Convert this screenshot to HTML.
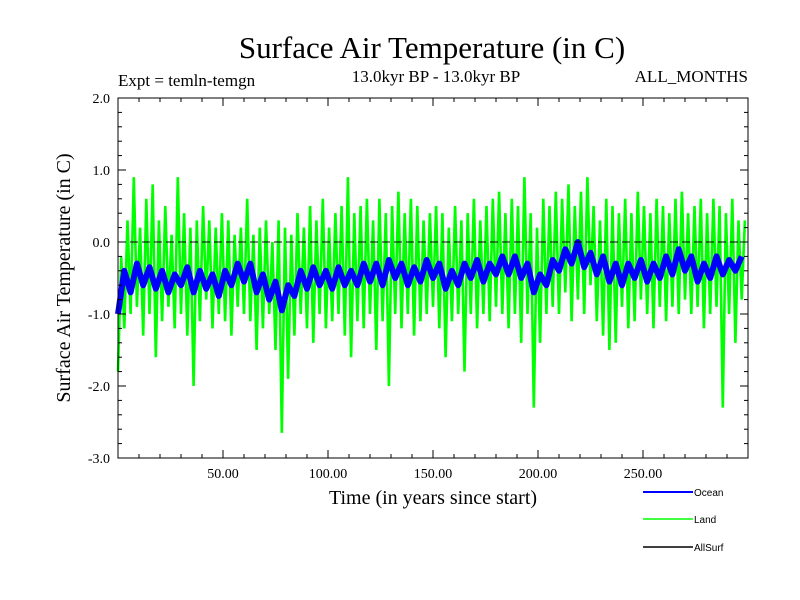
<!DOCTYPE html>
<html><head><meta charset="utf-8"><style>
body{margin:0;background:#fff}
svg{display:block}
.s{font-family:"Liberation Serif",serif}
.a{font-family:"Liberation Sans",sans-serif}
</style></head><body>
<svg id="c" width="800" height="600" xmlns="http://www.w3.org/2000/svg">
<text class="s" x="432" y="58" font-size="31" text-anchor="middle">Surface Air Temperature (in C)</text>
<text class="s" x="118" y="86" font-size="17">Expt = temln-temgn</text>
<text class="s" x="436" y="82" font-size="17" text-anchor="middle">13.0kyr BP - 13.0kyr BP</text>
<text class="s" x="748" y="82" font-size="17" text-anchor="end">ALL_MONTHS</text>
<text class="s" x="433" y="504" font-size="20" text-anchor="middle">Time (in years since start)</text>
<text class="s" transform="translate(70,278) rotate(-90)" font-size="20" text-anchor="middle">Surface Air Temperature (in C)</text>
<g id="plot"></g>
<g>
<line x1="643" y1="492" x2="693" y2="492" stroke="#0000ff" stroke-width="2"/>
<text class="a" x="694" y="496" font-size="10">Ocean</text>
<line x1="643" y1="519" x2="693" y2="519" stroke="#00ff00" stroke-width="1.5"/>
<text class="a" x="694" y="523" font-size="10">Land</text>
<line x1="643" y1="547" x2="693" y2="547" stroke="#000" stroke-width="1.5"/>
<text class="a" x="694" y="551" font-size="10">AllSurf</text>
</g>
</svg>
<script>
const xTicks=[50,100,150,200,250];
const xTickLabels=["50.00","100.00","150.00","200.00","250.00"];
const yTicks=[2,1,0,-1,-2,-3];
const yTickLabels=["2.0","1.0","0.0","-1.0","-2.0","-3.0"];
const landStep=1.5;
const land=[-1.8,-0.2,-1.2,0.3,-1.0,0.9,-0.9,0.2,-1.3,0.6,
-1.0,0.8,-1.6,0.3,-1.1,0.5,-0.9,0.1,-1.2,0.9,
-1.0,0.4,-1.3,0.2,-2.0,0.3,-1.1,0.5,-0.8,0.3,
-1.2,0.2,-1.0,0.4,-1.1,0.3,-1.3,0.1,-0.9,0.2,
-1.0,0.6,-1.1,0.1,-1.5,0.2,-1.2,0.3,-1.0,0.0,
-1.5,0.3,-2.65,0.2,-1.9,0.1,-1.3,0.4,-1.0,0.2,
-1.2,0.5,-1.4,0.3,-1.0,0.6,-1.2,0.2,-1.1,0.4,
-1.0,0.5,-1.3,0.9,-1.6,0.4,-1.1,0.5,-1.2,0.6,
-1.0,0.3,-1.5,0.6,-1.1,0.4,-2.0,0.5,-1.0,0.7,
-1.2,0.4,-1.0,0.6,-1.3,0.5,-1.1,0.3,-1.0,0.4,
-0.9,0.5,-1.2,0.4,-1.6,0.2,-1.1,0.5,-1.0,0.3,
-1.8,0.4,-1.0,0.6,-1.2,0.3,-1.0,0.5,-1.1,0.6,
-0.9,0.7,-1.0,0.4,-1.2,0.6,-1.0,0.5,-1.4,0.9,
-1.0,0.4,-2.3,0.2,-1.4,0.6,-1.0,0.5,-0.9,0.7,
-1.0,0.6,-0.7,0.8,-1.1,0.5,-0.8,0.7,-1.0,0.9,
-0.6,0.5,-1.1,0.3,-1.3,0.6,-1.5,0.5,-1.4,0.4,
-0.9,0.6,-1.2,0.4,-1.1,0.7,-0.8,0.5,-1.0,0.4,
-1.2,0.6,-0.9,0.5,-1.1,0.4,-0.9,0.6,-1.0,0.7,
-0.8,0.4,-1.0,0.5,-0.9,0.6,-1.2,0.4,-1.0,0.6,
-0.9,0.5,-2.3,0.4,-1.0,0.6,-1.4,0.3,-0.8,0.3];
const oceanStep=3;
const ocean=[-1.0,-0.4,-0.7,-0.3,-0.6,-0.35,-0.65,-0.4,-0.7,-0.45,
-0.6,-0.35,-0.7,-0.4,-0.65,-0.45,-0.75,-0.4,-0.6,-0.3,
-0.55,-0.3,-0.7,-0.45,-0.8,-0.55,-0.95,-0.6,-0.75,-0.4,
-0.65,-0.35,-0.6,-0.4,-0.65,-0.35,-0.6,-0.4,-0.6,-0.3,
-0.55,-0.3,-0.6,-0.25,-0.5,-0.3,-0.6,-0.35,-0.55,-0.25,
-0.5,-0.3,-0.65,-0.4,-0.6,-0.3,-0.5,-0.25,-0.55,-0.3,
-0.45,-0.2,-0.45,-0.2,-0.5,-0.3,-0.7,-0.45,-0.6,-0.25,
-0.4,-0.1,-0.3,0.0,-0.35,-0.15,-0.45,-0.2,-0.55,-0.3,
-0.6,-0.3,-0.5,-0.25,-0.55,-0.3,-0.5,-0.2,-0.45,-0.1,
-0.4,-0.2,-0.55,-0.3,-0.5,-0.2,-0.45,-0.25,-0.4,-0.2];

const L=118,R=748,T=98,B=458,X0=0,X1=300,Y0=-3,Y1=2;
const sx=v=>L+(v-X0)/(X1-X0)*(R-L);
const sy=v=>B-(v-Y0)/(Y1-Y0)*(B-T);
const NS="http://www.w3.org/2000/svg";
const g=document.getElementById('plot');
function mk(t,a){const e=document.createElementNS(NS,t);for(const k in a)e.setAttribute(k,a[k]);g.appendChild(e);return e;}

let d=land.map((v,i)=>(i?'L':'M')+sx(Math.min(i*landStep,300)).toFixed(1)+','+sy(v).toFixed(1)).join('');
const lp=mk('path',{d:d,fill:'none',stroke:'#00ff00','stroke-width':2.6,'stroke-linejoin':'bevel'});


d=ocean.map((v,i)=>(i?'L':'M')+sx(Math.min(i*oceanStep,300)).toFixed(1)+','+sy(v).toFixed(1)).join('');
const op=mk('path',{d:d,fill:'none',stroke:'#0000ff','stroke-width':6,'stroke-linejoin':'round'});


const zl=mk('line',{x1:L,x2:R,y1:sy(0),y2:sy(0),stroke:'#000','stroke-dasharray':'8,4','stroke-width':1});


const fr=mk('rect',{x:L,y:T,width:R-L,height:B-T,fill:'none',stroke:'#000','stroke-width':1});


for(let v=Y0;v<=Y1+1e-9;v+=0.2){
  const y=sy(v),maj=Math.abs(v-Math.round(v))<1e-6,len=maj?8:4;
  mk('line',{x1:L,x2:L+len,y1:y,y2:y,stroke:'#000'});
  mk('line',{x1:R,x2:R-len,y1:y,y2:y,stroke:'#000'});
}
yTicks.forEach((v,i)=>{const t=mk('text',{x:L-8,y:sy(v)+5,'font-size':14,'text-anchor':'end','class':'s'});t.textContent=yTickLabels[i];

});
for(let v=10;v<300;v+=10){
  const x=sx(v),len=v%50===0?8:4;
  mk('line',{x1:x,x2:x,y1:B,y2:B-len,stroke:'#000'});
  mk('line',{x1:x,x2:x,y1:T,y2:T+len,stroke:'#000'});
}
xTicks.forEach((v,i)=>{const t=mk('text',{x:sx(v),y:B+20,'font-size':14,'text-anchor':'middle','class':'s'});t.textContent=xTickLabels[i];

});
</script>
</body></html>
